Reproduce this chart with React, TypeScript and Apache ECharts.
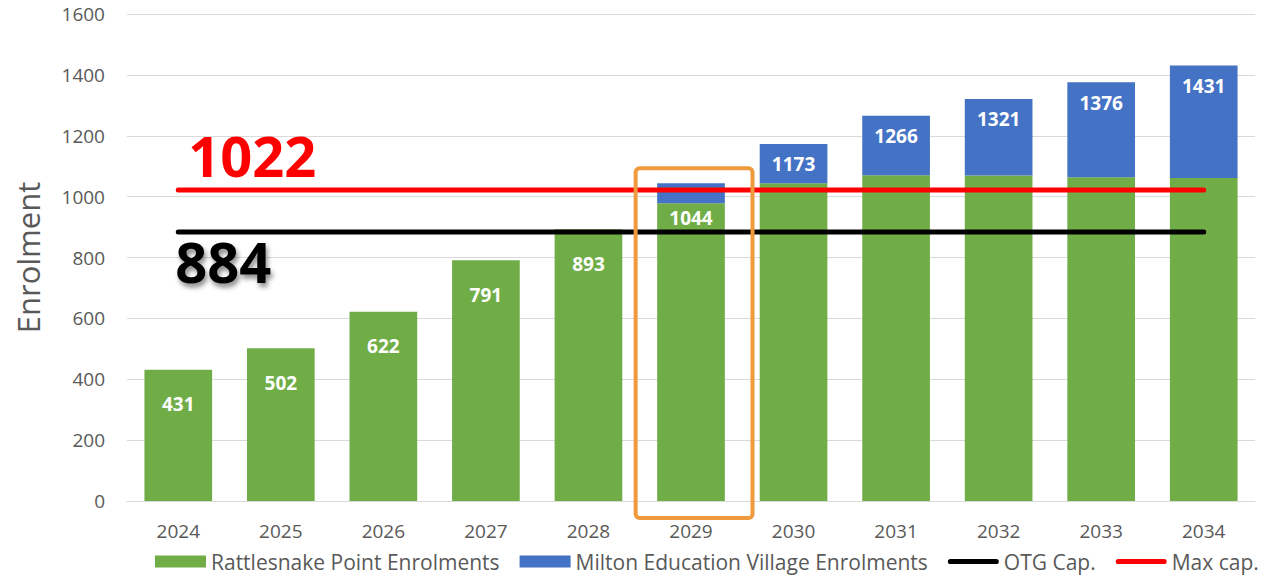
import React, { useEffect, useRef } from "react";
import * as echarts from "echarts";

const years = ["2024", "2025", "2026", "2027", "2028", "2029", "2030", "2031", "2032", "2033", "2034"];
const rattlesnake = [431, 502, 622, 791, 893, 978, 1044, 1070, 1069, 1064, 1061];
const milton = [0, 0, 0, 0, 0, 66, 129, 196, 252, 312, 370];
const otgCap = 884;
const maxCap = 1022;
const highlightYear = "2029";
const yMin = 0;
const yMax = 1600;
const yStep = 200;

const FONT = "'Open Sans', 'DejaVu Sans', sans-serif";
const LINE_ICON = "path://M5,0 L95,0 A5,5 0 0 1 95,10 L5,10 A5,5 0 0 1 5,0 Z";

export default function App() {
  const ref = useRef<HTMLDivElement>(null);

  useEffect(() => {
    const chart = echarts.init(ref.current as HTMLDivElement, null, { renderer: "svg" });
    const totals = rattlesnake.map((v, i) => v + milton[i]);
    const onGreen = (i: number) => milton[i] < 100;
    const labelBase = {
      position: "insideTop",
      color: "#ffffff",
      fontFamily: FONT,
      fontWeight: "bold",
      fontSize: 19,
    };
    const greenData = rattlesnake.map((v, i) => ({
      value: v,
      label: {
        ...labelBase,
        show: onGreen(i),
        distance: milton[i] > 0 ? 5 : 25,
        formatter: String(totals[i]),
      },
    }));
    const blueData = milton.map((v, i) => ({
      value: v,
      label: {
        ...labelBase,
        show: !onGreen(i),
        distance: 11,
        formatter: String(totals[i]),
      },
    }));

    chart.setOption({
      animation: false,
      grid: { left: 127, right: 15, top: 14, bottom: 77, containLabel: false },
      legend: {
        left: 150,
        top: 546,
        itemWidth: 51,
        itemHeight: 12,
        itemGap: 20,
        symbolKeepAspect: true,
        textStyle: { fontFamily: FONT, fontSize: 21, color: "#595959" },
        data: [
          { name: "Rattlesnake Point Enrolments", icon: "rect" },
          { name: "Milton Education Village Enrolments", icon: "rect" },
          { name: "OTG Cap.", icon: LINE_ICON },
          { name: "Max cap.", icon: LINE_ICON },
        ],
      },
      xAxis: {
        type: "category",
        data: years,
        axisTick: { show: false },
        axisLine: { lineStyle: { color: "#d9d9d9", width: 1 } },
        axisLabel: { color: "#595959", fontFamily: FONT, fontSize: 19, margin: 20 },
      },
      yAxis: {
        type: "value",
        min: yMin,
        max: yMax,
        interval: yStep,
        name: "Enrolment",
        nameLocation: "middle",
        nameRotate: 90,
        nameGap: 84,
        nameTextStyle: { color: "#595959", fontFamily: FONT, fontSize: 31 },
        axisLine: { show: false },
        axisTick: { show: false },
        axisLabel: {
          color: "#595959",
          fontFamily: FONT,
          fontSize: 19,
          margin: 22,
          formatter: (v: number) => String(v),
        },
        splitLine: { lineStyle: { color: "#d9d9d9", width: 1 } },
      },
      series: [
        {
          name: "Rattlesnake Point Enrolments",
          type: "bar",
          stack: "total",
          barWidth: "66%",
          itemStyle: { color: "#70AD47" },
          data: greenData,
        },
        {
          name: "Milton Education Village Enrolments",
          type: "bar",
          stack: "total",
          barWidth: "66%",
          itemStyle: { color: "#4472C4" },
          data: blueData,
        },
        {
          name: "OTG Cap.",
          type: "line",
          symbol: "none",
          data: years.map(() => otgCap),
          itemStyle: { color: "#000000" },
          lineStyle: { color: "#000000", width: 5, cap: "round" },
          z: 5,
        },
        {
          name: "Max cap.",
          type: "line",
          symbol: "none",
          data: years.map(() => maxCap),
          itemStyle: { color: "#FF0000" },
          lineStyle: { color: "#FF0000", width: 5, cap: "round" },
          z: 5,
        },
      ],
    });

    const pMax = chart.convertToPixel({ gridIndex: 0 }, [years[0], maxCap]) as number[];
    const pOtg = chart.convertToPixel({ gridIndex: 0 }, [years[0], otgCap]) as number[];
    const c0 = chart.convertToPixel({ xAxisIndex: 0 }, years[0]) as number;
    const c1 = chart.convertToPixel({ xAxisIndex: 0 }, years[1]) as number;
    const catW = c1 - c0;
    const hIdx = years.indexOf(highlightYear);
    const hx = chart.convertToPixel({ xAxisIndex: 0 }, highlightYear) as number;
    const hTop = chart.convertToPixel({ yAxisIndex: 0 }, totals[hIdx]) as number;
    const hBase = chart.convertToPixel({ yAxisIndex: 0 }, 0) as number;

    chart.setOption({
      graphic: [
        {
          type: "rect",
          z: 100,
          shape: {
            x: hx - 0.54 * catW,
            y: hTop - 15,
            width: 1.14 * catW,
            height: hBase + 17 - (hTop - 15),
            r: 4,
          },
          style: { fill: "none", stroke: "#EE9A3D", lineWidth: 4 },
        },
        {
          type: "text",
          z: 100,
          x: pMax[0] + 10,
          y: pMax[1] - 35,
          style: {
            text: String(maxCap),
            fill: "#FF0000",
            fontFamily: FONT,
            fontWeight: "bold",
            fontSize: 56,
            align: "left",
            verticalAlign: "middle",
          },
        },
        {
          type: "text",
          z: 100,
          x: pOtg[0] - 3,
          y: pOtg[1] + 29,
          style: {
            text: String(otgCap),
            fill: "#000000",
            fontFamily: FONT,
            fontWeight: "bold",
            fontSize: 56,
            align: "left",
            verticalAlign: "middle",
            textShadowColor: "rgba(0,0,0,0.45)",
            textShadowBlur: 5,
            textShadowOffsetX: 2,
            textShadowOffsetY: 4,
          },
        },
      ],
    });

    return () => chart.dispose();
  }, []);

  return (
    <div
      ref={ref}
      style={{ position: "absolute", left: 0, top: 0, width: 1270, height: 578 }}
    />
  );
}
